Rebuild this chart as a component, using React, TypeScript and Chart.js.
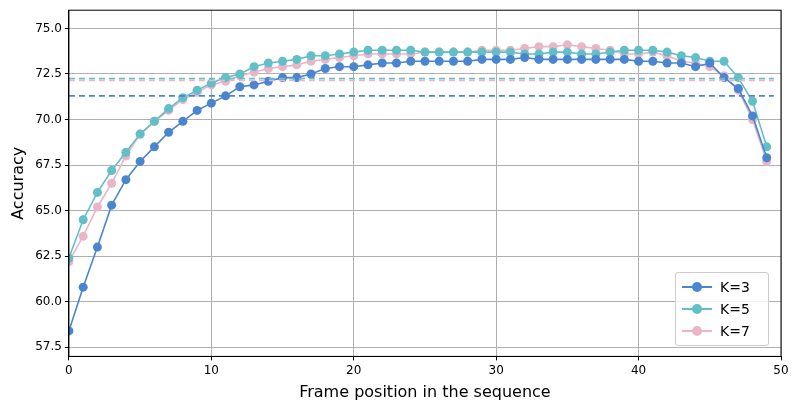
import { useEffect, useRef } from 'react';
import Chart from 'chart.js/auto';

const positions = Array.from({ length: 50 }, (_, i) => i);
const k3 = [58.4, 60.8, 63.0, 65.3, 66.7, 67.7, 68.5, 69.3, 69.9, 70.5, 70.9, 71.3, 71.8, 71.9, 72.1, 72.3, 72.3, 72.5, 72.8, 72.9, 72.9, 73.0, 73.1, 73.1, 73.2, 73.2, 73.2, 73.2, 73.2, 73.3, 73.3, 73.3, 73.4, 73.3, 73.3, 73.3, 73.3, 73.3, 73.3, 73.3, 73.2, 73.2, 73.1, 73.1, 72.9, 73.1, 72.3, 71.7, 70.2, 67.9];
const k5 = [62.4, 64.5, 66.0, 67.2, 68.2, 69.2, 69.9, 70.6, 71.2, 71.6, 72.0, 72.3, 72.5, 72.9, 73.1, 73.2, 73.3, 73.5, 73.5, 73.6, 73.7, 73.8, 73.8, 73.8, 73.8, 73.7, 73.7, 73.7, 73.7, 73.7, 73.7, 73.7, 73.6, 73.6, 73.7, 73.7, 73.6, 73.6, 73.7, 73.8, 73.8, 73.8, 73.7, 73.5, 73.4, 73.2, 73.2, 72.3, 71.0, 68.5];
const k7 = [62.2, 63.6, 65.2, 66.5, 68.0, 69.2, 69.9, 70.5, 71.1, 71.5, 71.9, 72.1, 72.4, 72.6, 72.8, 72.9, 73.0, 73.2, 73.3, 73.4, 73.5, 73.6, 73.6, 73.6, 73.6, 73.7, 73.7, 73.7, 73.7, 73.8, 73.8, 73.8, 73.9, 74.0, 74.0, 74.1, 74.0, 73.9, 73.8, 73.6, 73.6, 73.7, 73.5, 73.2, 73.1, 72.9, 72.4, 71.6, 70.0, 67.7];
const baselines = { k3: 71.3, k5: 72.25, k7: 72.15 };
const yTicks = [57.5, 60.0, 62.5, 65.0, 67.5, 70.0, 72.5, 75.0];

const c3 = '#4a86d0';
const c5 = '#62bfc8';
const c7 = '#e8b6c8';

const pts = (arr: number[]) => arr.map((y, i) => ({ x: positions[i], y }));
const flat = (y: number) => [{ x: 0, y }, { x: 49.5, y }];

// matplotlib-style frame round the plot area
const frame = {
  id: 'frame',
  afterDraw(chart: any) {
    const { ctx, chartArea: a } = chart;
    ctx.save();
    ctx.strokeStyle = '#000';
    ctx.lineWidth = 1;
    ctx.strokeRect(a.left, a.top, a.right - a.left, a.bottom - a.top);
    ctx.restore();
  },
};

export default function App() {
  const chartRef = useRef<HTMLCanvasElement | null>(null);

  useEffect(() => {
    let chart: Chart | null = null;
    const ctx = chartRef.current?.getContext('2d');
    if (ctx) {
      const dashed = (y: number, color: string) => ({
        label: '', data: flat(y), borderColor: color, borderWidth: 1.6,
        borderDash: [6, 4], pointRadius: 0, fill: false,
      });
      const series = (label: string, arr: number[], color: string) => ({
        label, data: pts(arr), borderColor: color, backgroundColor: color,
        borderWidth: 1.6, pointRadius: 4.5, pointBorderWidth: 0, fill: false,
      });
      chart = new Chart(ctx, {
        type: 'line',
        data: {
          datasets: [
            dashed(baselines.k5, c5),
            dashed(baselines.k7, c7),
            dashed(baselines.k3, c3),
            series('K=3', k3, c3),
            series('K=5', k5, c5),
            series('K=7', k7, c7),
          ] as any,
        },
        options: {
          animation: false,
          responsive: true,
          maintainAspectRatio: false,
          layout: { padding: { top: 6, right: 12, left: 5, bottom: 2 } },
          plugins: { legend: { display: false }, tooltip: { enabled: false } },
          scales: {
            x: {
              type: 'linear', min: 0, max: 50,
              ticks: { stepSize: 10, color: '#000', font: { family: 'DejaVu Sans', size: 12 } },
              grid: { color: '#b0b0b0', tickColor: '#000', tickLength: 4 },
              border: { color: '#000' },
              title: { display: true, text: 'Frame position in the sequence', color: '#000', font: { family: 'DejaVu Sans', size: 16 }, padding: { top: 2 } },
            },
            y: {
              min: 57, max: 76,
              afterBuildTicks: (axis: any) => { axis.ticks = yTicks.map((v) => ({ value: v })); },
              ticks: { color: '#000', font: { family: 'DejaVu Sans', size: 12 }, callback: (v: any) => Number(v).toFixed(1) },
              grid: { color: '#b0b0b0', tickColor: '#000', tickLength: 4 },
              border: { color: '#000' },
              title: { display: true, text: 'Accuracy', color: '#000', font: { family: 'DejaVu Sans', size: 16 } },
            },
          },
        },
        plugins: [frame],
      });
    }
    return () => { chart?.destroy(); };
  }, []);

  const item = (label: string, color: string) => (
    <div style={{ display: 'flex', alignItems: 'center', height: 22 }}>
      <div style={{ position: 'relative', width: 30, height: 10, marginRight: 8 }}>
        <div style={{ position: 'absolute', top: 4, left: 0, width: 30, height: 2, background: color }} />
        <div style={{ position: 'absolute', top: 0, left: 10, width: 10, height: 10, borderRadius: 5, background: color }} />
      </div>
      <span>{label}</span>
    </div>
  );

  return (
    <div style={{ position: 'fixed', left: 0, top: 0, width: 793, height: 408, background: '#fff' }}>
      <canvas ref={chartRef}></canvas>
      <div style={{
        position: 'absolute', left: 675, top: 272, width: 80, padding: '3px 6px',
        border: '1px solid #ccc', borderRadius: 3, background: 'rgba(255,255,255,0.85)',
        fontFamily: 'DejaVu Sans', fontSize: 14, color: '#000',
      }}>
        {item('K=3', c3)}
        {item('K=5', c5)}
        {item('K=7', c7)}
      </div>
    </div>
  );
}
